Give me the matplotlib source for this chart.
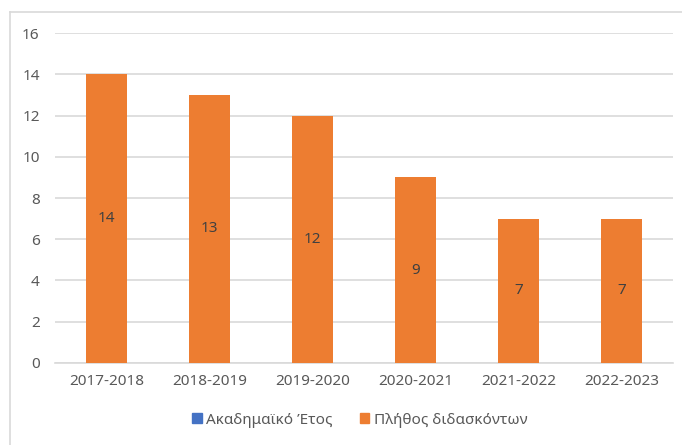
import matplotlib.pyplot as plt
from matplotlib.patches import Patch
from matplotlib.lines import Line2D

plt.rcParams['font.family'] = ['Noto Sans', 'DejaVu Sans']

years = ['2017-2018', '2018-2019', '2019-2020', '2020-2021', '2021-2022', '2022-2023']
teachers = [14, 13, 12, 9, 7, 7]
legend_labels = ['Ακαδημαϊκό Έτος', 'Πλήθος διδασκόντων']

orange = '#ED7D31'
blue = '#4472C4'
text_col = '#595959'
grid_col = '#D9D9D9'

fig = plt.figure(figsize=(6.82, 4.45), dpi=100)
ax = fig.add_axes([0.0806, 0.1843, 0.906, 0.7415])

x = range(len(years))
bars = ax.bar(x, teachers, width=0.4, color=orange, zorder=3)
for xi, v in zip(x, teachers):
    ax.text(xi, v / 2, str(v), ha='center', va='center', fontsize=11, color='#404040', zorder=4)

ax.set_xlim(-0.5, len(years) - 0.5)
ax.set_ylim(0, 16)
ax.set_yticks(range(0, 17, 2))
ax.set_xticks(list(x))
ax.set_xticklabels(years)
ax.tick_params(axis='both', length=0, labelsize=11, colors=text_col)
ax.tick_params(axis='y', pad=11)
ax.tick_params(axis='x', pad=8)
ax.grid(axis='y', color=grid_col, linewidth=1.2, zorder=0)
for s in ['top', 'right', 'left']:
    ax.spines[s].set_visible(False)
ax.spines['bottom'].set_color(grid_col)
ax.spines['bottom'].set_linewidth(1.2)

handles = [Patch(color=blue), Patch(color=orange)]
fig.legend(handles, legend_labels, loc='center', bbox_to_anchor=(360 / 682, 1 - 420 / 445),
           ncol=2, frameon=False, fontsize=11, labelcolor=text_col,
           handlelength=0.6, handleheight=0.6, handletextpad=0.3, columnspacing=1.8)

# chart frame (top and left edges visible in the reference)
fig.add_artist(Line2D([10 / 682, 1], [1 - 12 / 445, 1 - 12 / 445], color=grid_col, linewidth=1.2))
fig.add_artist(Line2D([10 / 682, 10 / 682], [0, 1 - 12 / 445], color=grid_col, linewidth=1.2))

fig.savefig('out.png', dpi=100)
